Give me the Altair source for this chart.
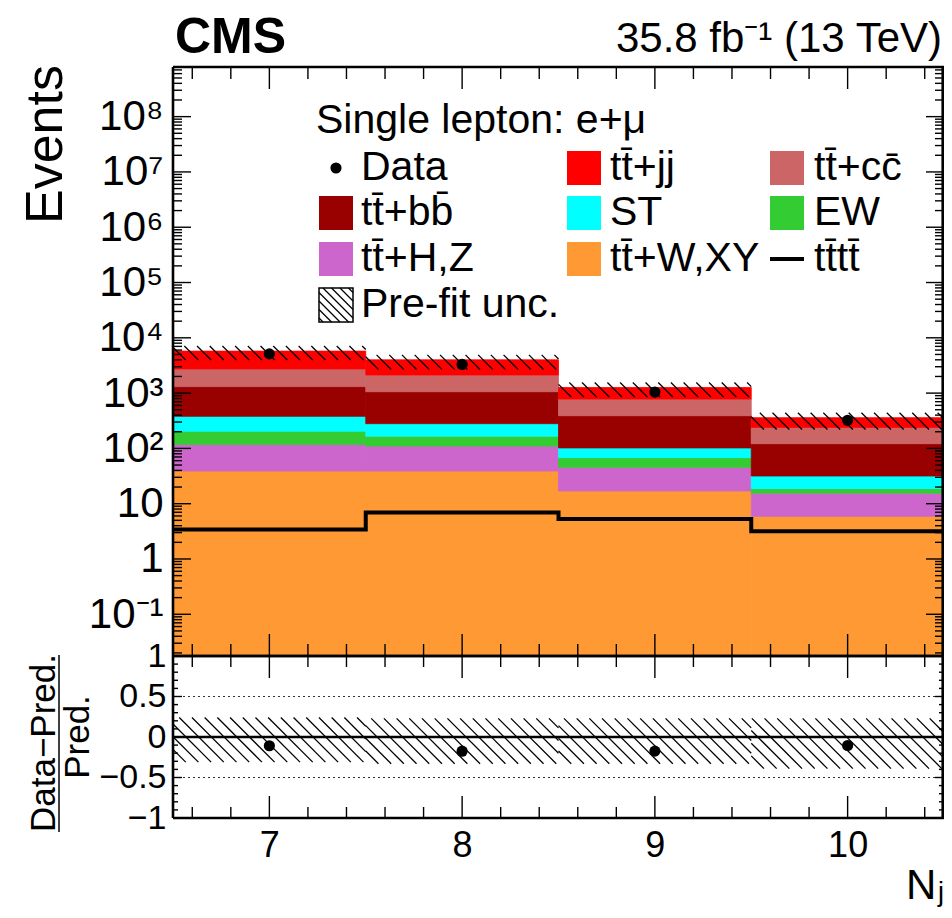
import altair as alt
import numpy as np
import pandas as pd

# ---------------- data ----------------
TT = "t" + "t\u0304"
nj = [7, 8, 9, 10]
processes = [TT + "+W,XY", TT + "+H,Z", "EW", "ST", TT + "+b" + "b\u0304", TT + "+c" + "c\u0304", TT + "+jj"]  # bottom -> top
colors = ["#FF9933", "#CC66CC", "#33CC33", "#00FFFF", "#990000", "#CC6666", "#FF0000"]
ttWXY = [39, 39, 17, 5.9]
ttHZ = [79, 71, 28.6, 9.6]
EW = [86, 56, 22.4, 3.2]
ST = [176, 114, 34, 13]
ttbb = [930, 780, 288, 90]
ttcc = [1430, 1070, 390, 118]
ttjj = [3010, 1870, 485, 120]
data_counts = [5130, 3300, 1045, 322]
tttt = [3.4, 6.9, 5.3, 3.17]
unc_up = [0.24, 0.23, 0.23, 0.23]
unc_down = [0.31, 0.33, 0.33, 0.39]

x_major = [7, 8, 9, 10]
y_major_up = [10.0 ** k for k in range(-1, 9)]
y_major_r = [-1, -0.5, 0, 0.5, 1]

# ---------------- layout ----------------
FONT = "Liberation Sans, Arial, Helvetica, sans-serif"
W, H1, H2 = 771, 589, 162
PAD = {"left": 165, "top": 59, "right": 0, "bottom": 90}
YMIN, YMAX = 0.0176, 7.9e8
xs = alt.Scale(domain=[6.5, 10.5], nice=False, zero=False, range=[0, W])
ys = alt.Scale(type="log", domain=[YMIN, YMAX], nice=False, range=[H1, 0])
rs = alt.Scale(domain=[-1, 1], nice=False, zero=False, range=[H1 + H2, H1])

YAX_UP = alt.Axis(values=y_major_up, ticks=False, domain=False, grid=False, title=None, orient="left",
                  labelExpr="datum.value < 0.5 ? '10\u207b\u00b9' : datum.value < 5 ? '1' : datum.value < 50 ? '10' : "
                            "'10' + ['', '', '\u00b2', '\u00b3', '\u2074', '\u2075', '\u2076', '\u2077', '\u2078'][round(log(datum.value) / LN10)]",
                  labelFont=FONT, labelFontSize=42, labelColor="black", labelPadding=10,
                  labelOverlap=False, labelFlush=False)
XAX_R = alt.Axis(values=x_major, format="d", ticks=False, domain=False, grid=False, title=None, orient="bottom",
                 labelFont=FONT, labelFontSize=36, labelColor="black", labelPadding=10,
                 labelOverlap=False, labelFlush=False)
YAX_R = alt.Axis(values=y_major_r, format="~g", ticks=False, domain=False, grid=False, title=None, orient="left",
                 labelFont=FONT, labelFontSize=34, labelColor="black", labelPadding=7,
                 labelOverlap=False, labelFlush=False)


def XU(f):
    return alt.X(f, type="quantitative", scale=xs, axis=None)


def YU(f):
    return alt.Y(f, type="quantitative", scale=ys, axis=YAX_UP)


def XR(f):
    return alt.X(f, type="quantitative", scale=xs, axis=XAX_R)


def YR(f):
    return alt.Y(f, type="quantitative", scale=rs, axis=YAX_R)


ONE = pd.DataFrame({"k": [0]})

# ---------------- derived tables ----------------
series = [ttWXY, ttHZ, EW, ST, ttbb, ttcc, ttjj]
rows = []
cum = np.zeros(len(nj))
for name, vals in zip(processes, series):
    lo = cum.copy()
    cum = cum + np.array(vals, dtype=float)
    for i in range(len(nj)):
        rows.append(dict(proc=name, x0=nj[i] - 0.5, x1=nj[i] + 0.5, lo=max(lo[i], YMIN), hi=cum[i]))
stack = pd.DataFrame(rows)
total = cum

ratio = pd.DataFrame({"nj": nj, "r": np.array(data_counts) / total - 1})
points = pd.DataFrame({"nj": nj, "data": data_counts})

step_rows = []
for i in range(len(nj)):
    step_rows.append(dict(x=nj[i] - 0.5, v=tttt[i], o=2 * i))
    step_rows.append(dict(x=nj[i] + 0.5, v=tttt[i], o=2 * i + 1))
step = pd.DataFrame(step_rows)

# hatch segments (45 degree lines in pixel space, converted through the scales)
px_unit = W / 4.0
px_dec_up = H1 / (np.log10(YMAX) - np.log10(YMIN))
px_r = H2 / 2.0
SP = 12.7


def hatch(lo_list, hi_list, to_val):
    segs = []
    binw = px_unit
    for i in range(len(nj)):
        h = to_val("h", lo_list[i], hi_list[i])
        x0 = -h
        while x0 < binw:
            t0 = max(0.0, -x0 / h)
            t1 = min(1.0, (binw - x0) / h)
            if t1 > t0:
                segs.append(dict(xa=nj[i] - 0.5 + (x0 + t0 * h) / px_unit,
                                 ya=to_val("y", hi_list[i], t0 * h),
                                 xb=nj[i] - 0.5 + (x0 + t1 * h) / px_unit,
                                 yb=to_val("y", hi_list[i], t1 * h)))
            x0 += SP
    return pd.DataFrame(segs)


def up_conv(kind, a, b):
    if kind == "h":
        return (np.log10(b) - np.log10(a)) * px_dec_up
    return 10 ** (np.log10(a) - b / px_dec_up)


def r_conv(kind, a, b):
    if kind == "h":
        return (b - a) * px_r
    return a - b / px_r


hatch_up = hatch([total[i] * (1 - unc_down[i]) for i in range(4)],
                 [total[i] * (1 + unc_up[i]) for i in range(4)], up_conv)
hatch_r = hatch([-d for d in unc_down], list(unc_up), r_conv)

x_minor = [round(v, 1) for v in np.arange(6.6, 10.45, 0.2) if abs(v - round(v)) > 0.05]
y_minor_up = [m * 10.0 ** k for k in range(-2, 9) for m in range(2, 10) if YMIN <= m * 10.0 ** k <= YMAX]
y_minor_r = [round(v, 1) for v in np.arange(-0.9, 0.95, 0.1) if abs(v * 2 - round(v * 2)) > 0.05]


def prule(x, y, x2=None, y2=None, color="black", width=1.4, **kw):
    enc = dict(x=alt.value(x), y=alt.value(y))
    if x2 is not None:
        enc["x2"] = alt.value(x2)
    if y2 is not None:
        enc["y2"] = alt.value(y2)
    return alt.Chart(ONE).mark_rule(color=color, strokeWidth=width, **kw).encode(**enc)


def prect(x, x2, y, y2, **kw):
    return alt.Chart(ONE).mark_rect(**kw).encode(x=alt.value(x), x2=alt.value(x2),
                                                   y=alt.value(y), y2=alt.value(y2))


def yticks(values, length, yfn):
    df = pd.DataFrame({"v": values})
    a = alt.Chart(df).mark_rule(color="black", strokeWidth=1.4).encode(
        y=yfn("v"), x=alt.value(0), x2=alt.value(length))
    b = alt.Chart(df).mark_rule(color="black", strokeWidth=1.4).encode(
        y=yfn("v"), x=alt.value(W - length), x2=alt.value(W))
    return [a, b]


def xticks(values, length, xfn, top, bottom):
    df = pd.DataFrame({"v": values})
    a = alt.Chart(df).mark_rule(color="black", strokeWidth=1.4).encode(
        x=xfn("v"), y=alt.value(top), y2=alt.value(top + length))
    b = alt.Chart(df).mark_rule(color="black", strokeWidth=1.4).encode(
        x=xfn("v"), y=alt.value(bottom - length), y2=alt.value(bottom))
    return [a, b]


def frame(top, bottom):
    return [prule(0, top, y2=bottom, width=2.6), prule(W - 1.3, top, y2=bottom, width=2.6),
            prule(0, top, x2=W, width=2.6), prule(0, bottom, x2=W, width=2.6)]


def txt(text, x, y, size, align="left", baseline="alphabetic", angle=0, weight="normal"):
    return alt.Chart(ONE).mark_text(text=text, fontSize=size, align=align, baseline=baseline,
                                    angle=angle, fontWeight=weight, font=FONT, color="black").encode(
        x=alt.value(x), y=alt.value(y))


# ---------------- upper panel ----------------
proc_scale = alt.Scale(domain=processes, range=colors)
bars = alt.Chart(stack).mark_rect(strokeWidth=0.8).encode(
    x=XU("x0"), x2="x1", y=YU("hi"), y2="lo",
    color=alt.Color("proc:N", scale=proc_scale, legend=None),
    stroke=alt.Stroke("proc:N", scale=proc_scale, legend=None))
hatch_up_l = alt.Chart(hatch_up).mark_rule(color="black", strokeWidth=1.3).encode(
    x=XU("xa"), y=YU("ya"), x2="xb", y2="yb")
step_l = alt.Chart(step).mark_line(color="black", strokeWidth=4).encode(
    x=XU("x"), y=YU("v"), order="o:Q")
pts_l = alt.Chart(points).mark_circle(color="black", size=125, opacity=1).encode(x=XU("nj"), y=YU("data"))

# legend (pixel layout inside plot area)
LX_SQ = [146, 394, 597]
LX_TX = [188, 437, 641]
LROW = [101, 146, 192, 238]
SQ = 34
LFS = 41
legend_layers = [txt("Single lepton: e+\u03bc", 143, 66, LFS)]
legend_entries = [
    (0, 0, "data", "Data"), (0, 1, 6, processes[6]), (0, 2, 5, processes[5]),
    (1, 0, 4, processes[4]), (1, 1, 3, processes[3]), (1, 2, 2, processes[2]),
    (2, 0, 1, processes[1]), (2, 1, 0, processes[0]), (2, 2, "line", TT + TT),
    (3, 0, "hatch", "Pre-fit unc."),
]
for r, c, kind, label in legend_entries:
    cy = LROW[r]
    x0 = LX_SQ[c]
    if kind == "data":
        legend_layers.append(alt.Chart(ONE).mark_circle(size=125, color="black", opacity=1).encode(
            x=alt.value(x0 + 17), y=alt.value(cy)))
    elif kind == "line":
        legend_layers.append(prule(x0, cy, x2=x0 + SQ, width=4))
    elif kind == "hatch":
        legend_layers.append(prect(x0, x0 + SQ, cy - SQ / 2, cy + SQ / 2,
                                   fill="white", stroke="black", strokeWidth=1.5))
        for d in np.arange(-SQ + 4, SQ, 8.5):
            sx = max(0.0, d)
            ex = min(float(SQ), SQ + d)
            if ex - sx > 1:
                legend_layers.append(prule(x0 + sx, cy - SQ / 2 + sx - d,
                                           x2=x0 + ex, y2=cy - SQ / 2 + ex - d, width=1.3))
    else:
        legend_layers.append(prect(x0, x0 + SQ, cy - SQ / 2, cy + SQ / 2, color=colors[kind]))
    legend_layers.append(txt(label, LX_TX[c], cy, LFS, baseline="middle"))

upper_layers = [bars, hatch_up_l, step_l, pts_l]
upper_layers += yticks(y_major_up, 18, YU) + yticks(y_minor_up, 9, YU)
upper_layers += xticks(x_major, 22, XU, 0, H1) + xticks(x_minor, 12, XU, 0, H1)
upper_layers += frame(0, H1)
upper_layers += legend_layers
upper_layers += [
    txt("CMS", 2, -14, 50, weight="bold"),
    txt("35.8 fb\u207b\u00b9 (13 TeV)", W - 2, -15, 42, align="right"),
    txt("Events", -111, -2, 52, align="right", angle=270),
]
upper = alt.layer(*upper_layers)

# ---------------- ratio panel ----------------
zero_l = alt.Chart(pd.DataFrame({"v": [0]})).mark_rule(color="black", strokeWidth=2.6).encode(
    y=YR("v"), x=alt.value(0), x2=alt.value(W))
dot_l = alt.Chart(pd.DataFrame({"v": [-0.5, 0.5]})).mark_rule(
    color="#333333", strokeWidth=1.2, strokeDash=[2, 3]).encode(y=YR("v"), x=alt.value(0), x2=alt.value(W))
hatch_r_l = alt.Chart(hatch_r).mark_rule(color="black", strokeWidth=1.3).encode(
    x=XR("xa"), y=YR("ya"), x2="xb", y2="yb")
rpts_l = alt.Chart(ratio).mark_circle(color="black", size=125, opacity=1).encode(x=XR("nj"), y=YR("r"))

ratio_layers = [dot_l, hatch_r_l, zero_l, rpts_l]
ratio_layers += yticks(y_major_r, 9, YR) + yticks(y_minor_r, 5, YR)
ratio_layers += xticks(x_major, 22, XR, H1, H1 + H2) + xticks(x_minor, 11, XR, H1, H1 + H2)
ratio_layers += frame(H1, H1 + H2)
ratio_layers += [
    txt("Data\u2212Pred.", -118, H1 + 87, 35, align="center", angle=270),
    prule(-114, H1 - 1, y2=H1 + 176, width=1.5),
    txt("Pred.", -84, H1 + 81, 35, align="center", angle=270),
    txt("N", W - 38, H1 + 243, 42),
    txt("j", W - 6, H1 + 245, 27),
]
lower = alt.layer(*ratio_layers)

chart = alt.layer(upper, lower).resolve_scale(
    x="independent", y="independent"
).resolve_axis(
    x="independent", y="independent"
).properties(
    width=W, height=H1 + H2, padding=PAD, autosize=alt.AutoSizeParams(type="none"), background="white"
).configure_view(stroke=None)

chart.save("out.html", embed_options={"renderer": "svg", "actions": False})
